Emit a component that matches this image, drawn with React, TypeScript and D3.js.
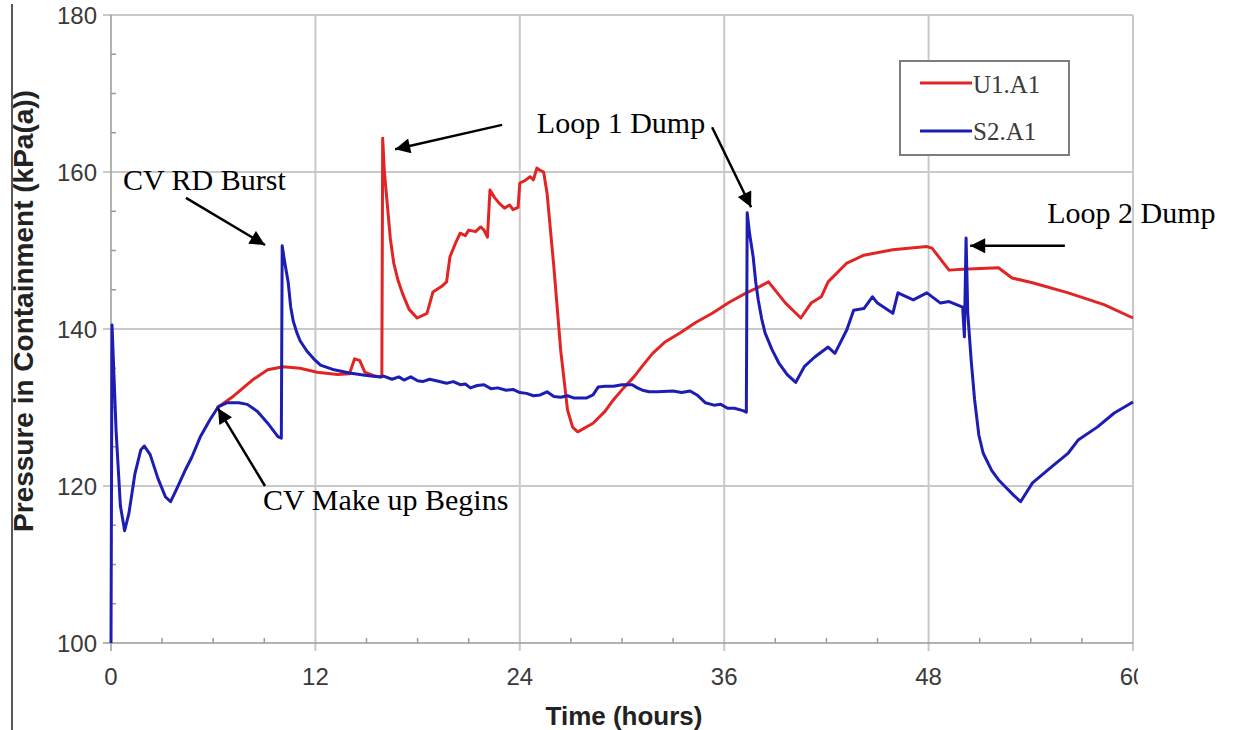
import React from 'react';
import * as d3 from 'd3';

const width = 1235;
const height = 730;

// axis ticks
const xTicks = [0, 12, 24, 36, 48, 60];
const yTicks = [100, 120, 140, 160, 180];

// S2.A1 (blue) pressure trace, hours / kPa(a)
const s2Hours = [
  0, 0.06, 0.3, 0.55, 0.8, 1.05, 1.4, 1.75, 1.95, 2.3, 2.75, 3.2, 3.5, 3.85, 4.4, 4.75,
  5.23, 5.8, 6.3, 6.8, 7.5, 8.0, 8.6, 9.2, 9.8, 10.0,
  10.05, 10.2, 10.4, 10.55, 10.7, 10.9, 11.1, 11.5, 11.9, 12.3, 13.1, 14.0, 14.9, 15.8,
  16.0, 16.5, 16.9, 17.2, 17.6, 18.0, 18.3, 18.7, 19.1, 19.7, 20.1, 20.5, 20.8, 21.1,
  21.5, 21.9, 22.3, 22.7, 23.2, 23.6, 24.0, 24.4, 24.8, 25.2, 25.6, 26.0, 26.4, 26.8,
  27.2, 27.9, 28.3, 28.6, 29.0, 29.5, 30.0, 30.6, 30.9, 31.2, 31.6, 32.1, 33.0, 33.5,
  34.0, 34.4, 34.7, 34.9, 35.4, 35.8, 36.2, 36.6, 37.1, 37.3,
  37.35, 37.5, 37.7, 37.85, 38.0, 38.2, 38.4, 38.8, 39.2, 39.7, 40.2, 40.7,
  41.3, 42.1, 42.5, 43.2, 43.6, 44.2, 44.7, 45.0, 45.9, 46.2, 47.1, 47.9, 48.7, 49.2,
  50.0, 50.1, 50.2, 50.3, 50.5, 50.7, 50.95, 51.2, 51.7, 52.1, 52.5, 53.0, 53.4, 54.1,
  55.2, 56.2, 56.8, 57.9, 58.9, 60.0,
];
const s2Pressure = [
  100, 140.5, 127, 117.5, 114.3, 116.5, 121.5, 124.6, 125.1, 124, 121, 118.6, 118, 119.6,
  122.2, 123.7, 126.2, 128.4, 130.1, 130.6, 130.6, 130.4, 129.5, 128.0, 126.3, 126.1,
  150.6, 148.5, 146.0, 142.8, 141, 139.6, 138.5, 137.2, 136.2, 135.4, 134.8, 134.4, 134.1, 133.9,
  134.0, 133.6, 133.9, 133.5, 133.9, 133.4, 133.3, 133.6, 133.4, 133.1, 133.3, 132.9, 133.0, 132.5,
  132.8, 132.9, 132.4, 132.5, 132.2, 132.3, 131.9, 131.8, 131.5, 131.6, 132.0, 131.4, 131.3, 131.5,
  131.2, 131.2, 131.6, 132.6, 132.7, 132.7, 132.9, 132.9, 132.5, 132.2, 132.0, 132.0, 132.1, 131.9,
  132.1, 131.6, 131.0, 130.6, 130.3, 130.4, 129.9, 129.9, 129.6, 129.4,
  154.8, 152, 149.2, 146, 143.7, 141.3, 139.5, 137.4, 135.7, 134.2, 133.2, 135.2,
  136.4, 137.7, 136.9, 139.9, 142.4, 142.6, 144.1, 143.3, 142.0, 144.6, 143.7, 144.6, 143.3, 143.5,
  142.8, 139, 151.6, 142, 136, 131, 126.5, 124.2, 122, 120.8, 119.9, 118.8, 118.0, 120.4,
  122.4, 124.2, 125.9, 127.5, 129.3, 130.7,
];

// U1.A1 (red) pressure trace, hours / kPa(a)
const u1Hours = [
  6.2, 7.1, 8.3, 9.2, 10.1, 11.1, 12.1, 13.3, 14.0, 14.3, 14.6, 14.9, 15.5, 15.9,
  15.95, 16.05, 16.2, 16.4, 16.6, 16.85, 17.1, 17.5, 17.97, 18.55, 18.9, 19.4, 19.7,
  19.9, 20.2, 20.5, 20.8, 21.0, 21.4, 21.7, 21.9, 22.1, 22.25, 22.5, 22.8, 23.1, 23.4,
  23.6, 23.9, 24.0, 24.3, 24.6, 24.8, 25.0, 25.2, 25.4, 25.6,
  26.0, 26.4, 26.8, 27.1, 27.4, 28.3, 29.0, 29.5, 30.1, 30.7, 31.2, 31.8, 32.5, 33.4,
  34.3, 35.3, 36.3, 37.3, 38.0, 38.6, 39.6, 40.5, 41.1, 41.7, 42.1, 43.2, 44.2,
  45.9, 47.9, 48.2, 49.2, 50.0, 52.1, 52.9, 54.1, 56.2, 58.3, 60.0,
];
const u1Pressure = [
  129.9, 131.3, 133.5, 134.8, 135.2, 135.0, 134.5, 134.2, 134.3, 136.2, 136.0, 134.5, 134.0, 133.9,
  164.3, 160, 156.4, 151.5, 148.4, 146.2, 144.6, 142.5, 141.4, 142.0, 144.7, 145.4, 146,
  149.2, 150.8, 152.2, 151.9, 152.6, 152.4, 153.0, 152.6, 151.7, 157.7, 156.8, 156.0, 155.4, 155.8,
  155.2, 155.5, 158.6, 158.9, 159.4, 159.0, 160.5, 160.2, 160.0, 157.3,
  147.9, 137.3, 129.7, 127.5, 126.9, 128.0, 129.5, 131, 132.5, 133.9, 135.3, 136.9, 138.3, 139.5,
  140.8, 142.0, 143.4, 144.6, 145.3, 146.0, 143.3, 141.4, 143.3, 144.1, 146.0, 148.4, 149.4,
  150.1, 150.5, 150.3, 147.5, 147.6, 147.8, 146.5, 145.9, 144.6, 143.1, 141.4,
];

const seriesNames = ['U1.A1', 'S2.A1'];
const seriesColors = ['#e12525', '#1d1db4'];

// annotation labels anchored in data space (hours, kPa)
const noteLabels = ['CV RD Burst', 'CV Make up Begins', 'Loop 1 Dump', 'Loop 2 Dump'];
const noteAt: [number, number][] = [[0.7, 157.7], [8.93, 116.9], [25.0, 165.0], [54.96, 153.5]];
// arrows: [fromHour, fromKPa, toHour, toKPa]
const arrows: [number, number, number, number][] = [
  [4.4, 156.7, 9.04, 150.7],
  [9.04, 120.0, 6.28, 129.9],
  [22.96, 166.0, 16.68, 162.9],
  [35.29, 165.7, 37.58, 155.5],
  [56.0, 150.6, 50.44, 150.6],
];

const sans = '"Liberation Sans", Arial, sans-serif';
const serif = '"Liberation Serif", "Times New Roman", serif';

export default function App() {
  const x = d3.scaleLinear().domain([0, 60]).range([111, 1133]);
  const y = d3.scaleLinear().domain([100, 180]).range([643, 15]);

  const line = d3.line<[number, number]>()
    .x(d => x(d[0]))
    .y(d => y(d[1]));

  const u1 = u1Hours.map((h, i) => [h, u1Pressure[i]] as [number, number]);
  const s2 = s2Hours.map((h, i) => [h, s2Pressure[i]] as [number, number]);

  const xMinor = d3.range(0, 61, 3).filter(d => d % 12 !== 0);
  const yMinor = d3.range(100, 181, 5).filter(d => d % 20 !== 0);

  const gridColor = '#c9c9c9';
  const axisColor = '#9a9a9a';

  return (
    <svg width={width} height={height}
      style={{ position: 'absolute', left: 0, top: 0, background: '#fff' }}>
      <defs>
        <marker id="head" viewBox="0 0 10 10" refX="10" refY="5"
          markerWidth="17" markerHeight="15" markerUnits="userSpaceOnUse" orient="auto">
          <path d="M0,0 L10,5 L0,10 z" fill="#000" />
        </marker>
        <clipPath id="clipTicks">
          <rect x={0} y={0} width={1138} height={height} />
        </clipPath>
      </defs>

      {/* left frame line */}
      <line x1={12} x2={12} y1={4} y2={730} stroke="#222" strokeWidth={1.5} />

      {/* grid */}
      {xTicks.filter(d => d > 0).map(d => (
        <line key={'gx' + d} x1={x(d)} x2={x(d)} y1={y(180)} y2={y(100) + 8}
          stroke={gridColor} strokeWidth={2} />
      ))}
      {yTicks.filter(d => d > 100).map(d => (
        <line key={'gy' + d} x1={x(0) - 8} x2={x(60)} y1={y(d)} y2={y(d)}
          stroke={gridColor} strokeWidth={2} />
      ))}

      {/* axes */}
      <line x1={x(0)} x2={x(0)} y1={y(180)} y2={y(100)} stroke={axisColor} strokeWidth={1.5} />
      <line x1={x(0) - 8} x2={x(60)} y1={y(100)} y2={y(100)} stroke={axisColor} strokeWidth={1.5} />
      <line x1={x(0)} x2={x(0)} y1={y(100)} y2={y(100) + 8} stroke={axisColor} strokeWidth={1.5} />
      {xMinor.map(d => (
        <line key={'mx' + d} x1={x(d)} x2={x(d)} y1={y(100)} y2={y(100) - 5}
          stroke={axisColor} strokeWidth={1.5} />
      ))}
      {yMinor.map(d => (
        <line key={'my' + d} x1={x(0)} x2={x(0) + 5} y1={y(d)} y2={y(d)}
          stroke={axisColor} strokeWidth={1.5} />
      ))}

      {/* tick labels */}
      <g clipPath="url(#clipTicks)" fontFamily={sans} fontSize={24} fill="#3a3a3a">
        {xTicks.map(d => (
          <text key={'tx' + d} x={x(d)} y={685} textAnchor="middle">{d}</text>
        ))}
        {yTicks.map(d => (
          <text key={'ty' + d} x={97} y={y(d)} dy="0.36em" textAnchor="end">{d}</text>
        ))}
      </g>

      {/* axis titles */}
      <text x={624} y={725} textAnchor="middle" fontFamily={sans} fontWeight="bold"
        fontSize={26} fill="#222">Time (hours)</text>
      <text transform="translate(33,311) rotate(-90)" textAnchor="middle" fontFamily={sans}
        fontWeight="bold" fontSize={28} fill="#222">Pressure in Containment (kPa(a))</text>

      {/* series */}
      <path d={line(u1) || ''} fill="none" stroke={seriesColors[0]} strokeWidth={3}
        strokeLinejoin="round" />
      <path d={line(s2) || ''} fill="none" stroke={seriesColors[1]} strokeWidth={3}
        strokeLinejoin="round" />

      {/* legend */}
      <rect x={900} y={61} width={169} height={94} fill="#fff" stroke="#7d7d7d" strokeWidth={2} />
      {seriesNames.map((name, i) => (
        <g key={name}>
          <line x1={920} x2={972} y1={83 + i * 48} y2={83 + i * 48}
            stroke={seriesColors[i]} strokeWidth={3} />
          <text x={973} y={93 + i * 47} fontFamily={serif} fontSize={25} fill="#3a3a3a">{name}</text>
        </g>
      ))}

      {/* annotations */}
      {arrows.map((a, i) => (
        <line key={'ar' + i} x1={x(a[0])} y1={y(a[1])} x2={x(a[2])} y2={y(a[3])}
          stroke="#000" strokeWidth={2.5} markerEnd="url(#head)" />
      ))}
      {noteLabels.map((t, i) => (
        <text key={t} x={x(noteAt[i][0])} y={y(noteAt[i][1])} fontFamily={serif}
          fontSize={30} fill="#000">{t}</text>
      ))}
    </svg>
  );
}
